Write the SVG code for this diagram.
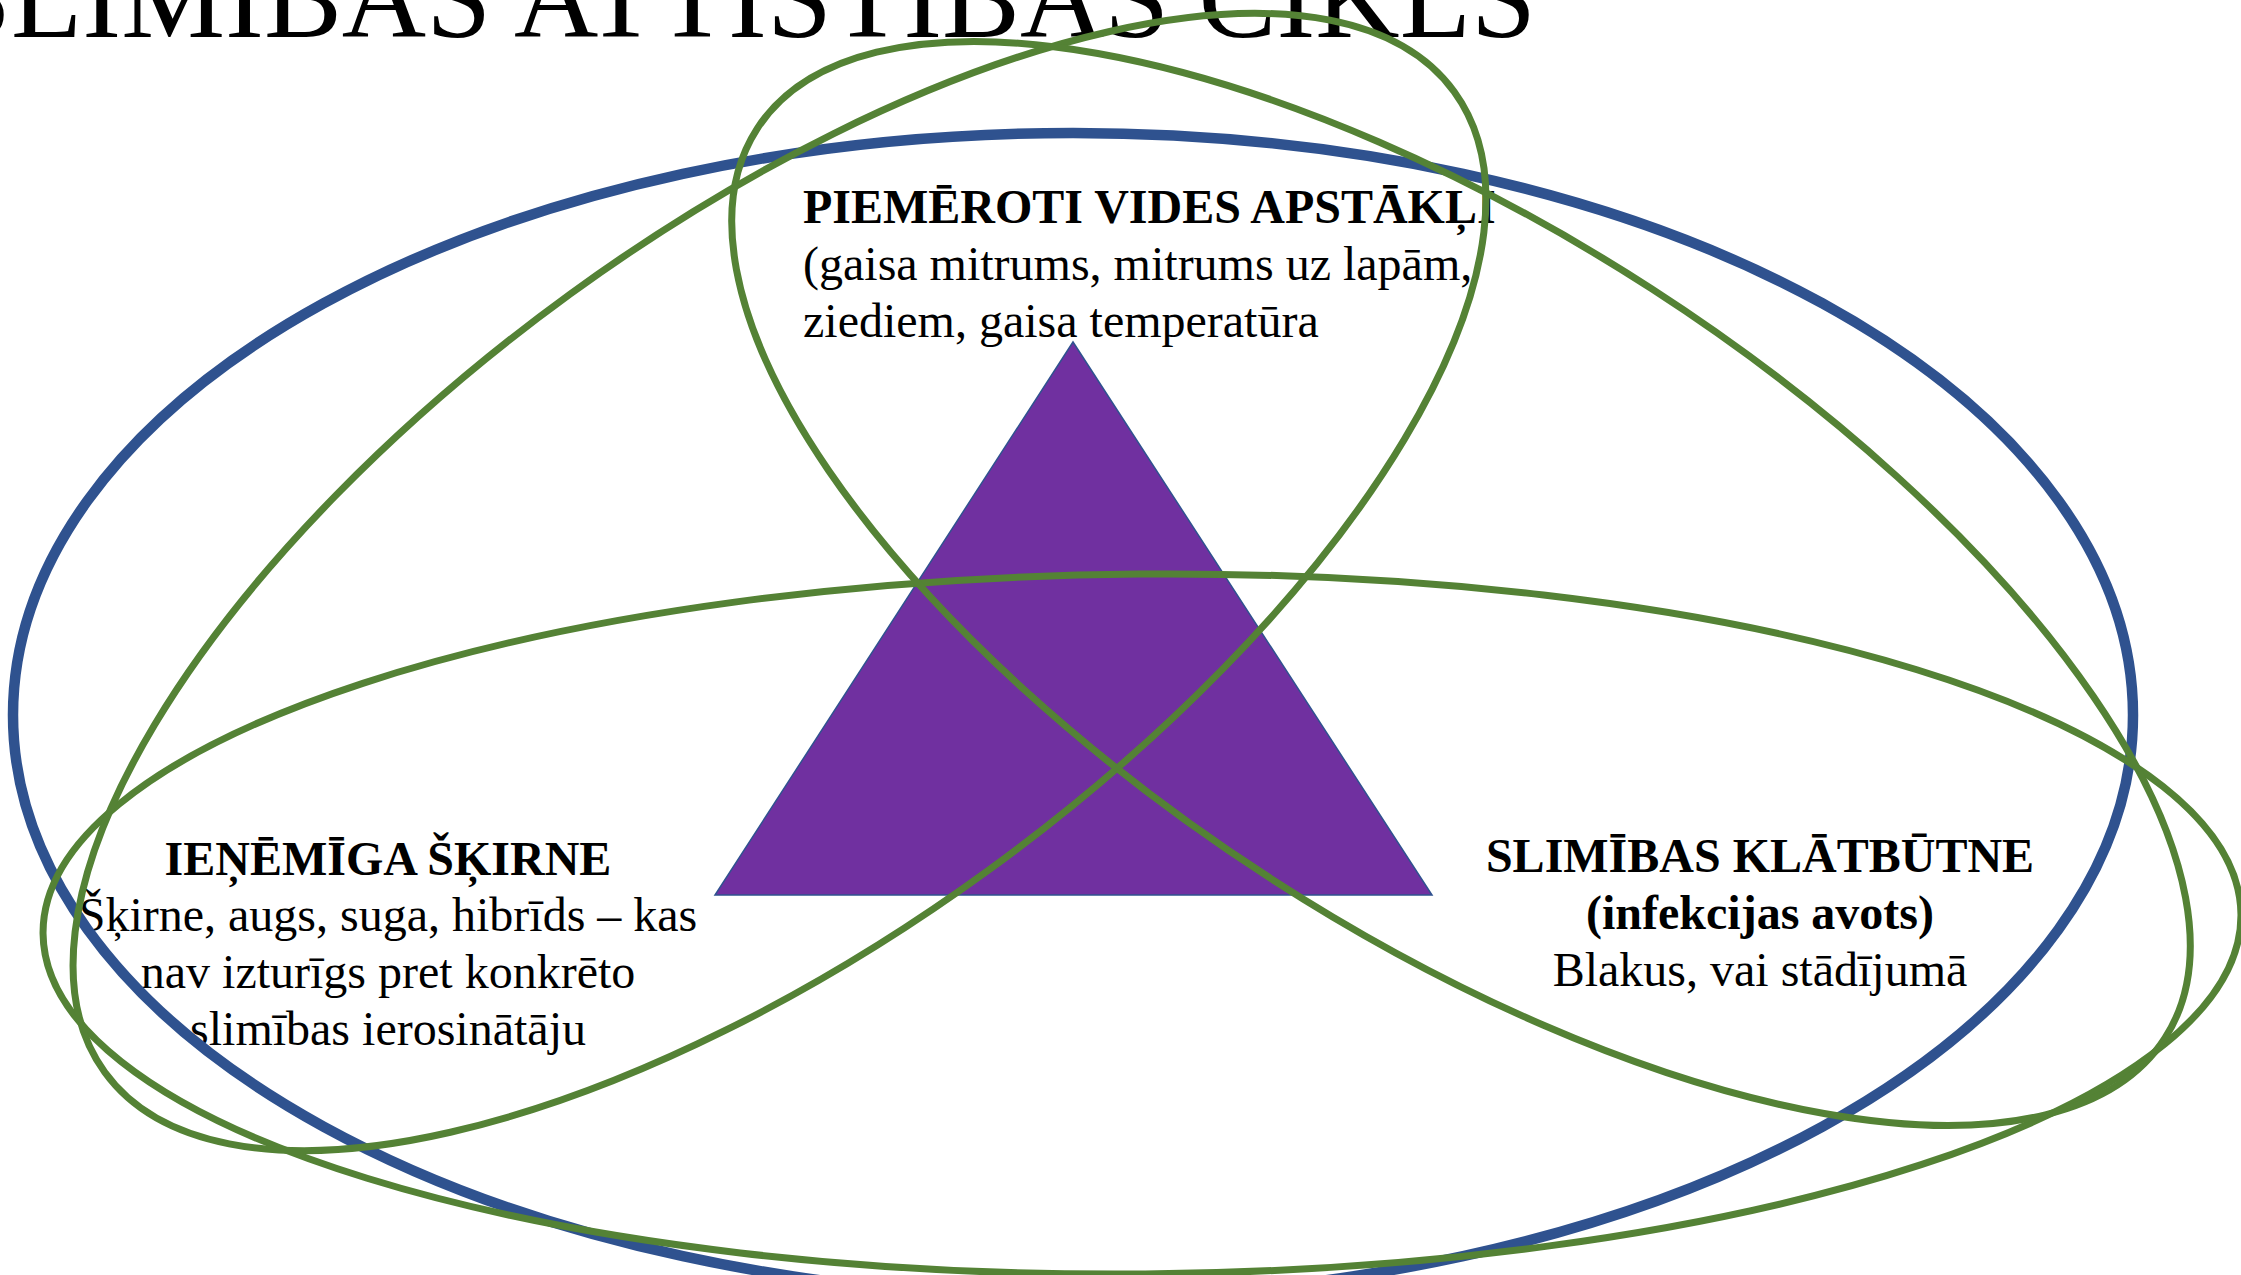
<svg xmlns="http://www.w3.org/2000/svg" width="2241" height="1275" viewBox="0 0 2241 1275">
<style>
.t{font-family:"Liberation Serif","Times New Roman",serif;font-size:48px;fill:#000}
.b{font-weight:bold}
.title{font-family:"Liberation Serif","Times New Roman",serif;font-size:116px;fill:#000}
.blue{fill:none;stroke:#2F528F;stroke-width:10.5}
.green{fill:none;stroke:#548235;stroke-width:7}
</style>
<rect width="2241" height="1275" fill="#fff"/>
<g id="title"><text class="title" x="-54" y="37" textLength="1590" lengthAdjust="spacingAndGlyphs">SLIMĪBAS ATTĪSTĪBAS CIKLS</text></g>
<g id="node-environment">
<text class="t b" x="803" y="223">PIEMĒROTI VIDES APSTĀKĻI</text>
<text class="t" x="803" y="280">(gaisa mitrums, mitrums uz lapām,</text>
<text class="t" x="803" y="337">ziediem, gaisa temperatūra</text>
</g>
<g id="node-host" text-anchor="middle">
<text class="t b" x="388" y="875">IEŅĒMĪGA ŠĶIRNE</text>
<text class="t" x="388" y="931">Šķirne, augs, suga, hibrīds – kas</text>
<text class="t" x="388" y="988">nav izturīgs pret konkrēto</text>
<text class="t" x="388" y="1045">slimības ierosinātāju</text>
</g>
<g id="node-pathogen" text-anchor="middle">
<text class="t b" x="1760" y="872">SLIMĪBAS KLĀTBŪTNE</text>
<text class="t b" x="1760" y="929">(infekcijas avots)</text>
<text class="t" x="1760" y="986">Blakus, vai stādījumā</text>
</g>
<g id="triangle"><polygon points="1073,342 715,895 1432,895" fill="#7030A0" stroke="#2F528F" stroke-width="1.5"/></g>
<g id="outer-ellipse"><ellipse class="blue" cx="1073" cy="715" rx="1060" ry="582"/></g>
<g id="connectors">
<ellipse id="ellipse-host" class="green" cx="1142" cy="924" rx="1099" ry="350" transform="rotate(-0.5 1142 924)"/>
<ellipse id="ellipse-env-left" class="green" cx="779.5" cy="582" rx="834" ry="356" transform="rotate(-36 779.5 582)"/>
<ellipse id="ellipse-env-right" class="green" cx="1461" cy="583.5" rx="838" ry="351" transform="rotate(32.86 1461 583.5)"/>
</g>
</svg>
